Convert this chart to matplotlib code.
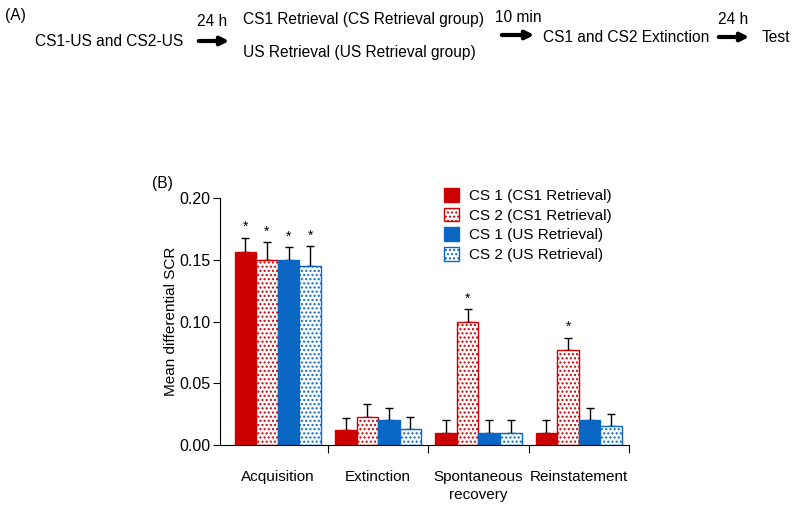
import numpy as np
import matplotlib
matplotlib.use('Agg')
import matplotlib.pyplot as plt

plt.rcParams['font.family'] = ['Liberation Sans', 'DejaVu Sans']
plt.rcParams['hatch.linewidth'] = 1.0

# data
phases = ['Acquisition', 'Extinction', 'Spontaneous\nrecovery', 'Reinstatement']
series = ['CS 1 (CS1 Retrieval)', 'CS 2 (CS1 Retrieval)',
          'CS 1 (US Retrieval)', 'CS 2 (US Retrieval)']
cs1_cs1ret = [0.156, 0.012, 0.010, 0.010]
cs2_cs1ret = [0.150, 0.023, 0.100, 0.077]
cs1_usret = [0.150, 0.020, 0.010, 0.020]
cs2_usret = [0.145, 0.013, 0.010, 0.015]
sem_cs1_cs1ret = [0.012, 0.010, 0.010, 0.010]
sem_cs2_cs1ret = [0.014, 0.010, 0.010, 0.010]
sem_cs1_usret = [0.010, 0.010, 0.010, 0.010]
sem_cs2_usret = [0.016, 0.010, 0.010, 0.010]
# which bars carry an asterisk
stars = [[True, False, False, False],
         [True, False, True, True],
         [True, False, False, False],
         [True, False, False, False]]

RED = '#cc0000'
BLUE = '#0a68c4'

W, H = 800, 511
fig = plt.figure(figsize=(8, 5.11), dpi=100, facecolor='white')


def fx(px):
    return px / W


def fy(py):
    return 1 - py / H


# ---- panel A: timeline ----
fs = 11.2
fig.text(fx(5), fy(15), '(A)', fontsize=fs, va='center')
fig.text(fx(35), fy(41), 'CS1-US and CS2-US', fontsize=fs, va='center')
fig.text(fx(212), fy(22), '24 h', fontsize=fs, va='center', ha='center')
fig.text(fx(243), fy(19), 'CS1 Retrieval (CS Retrieval group)', fontsize=fs, va='center')
fig.text(fx(243), fy(52), 'US Retrieval (US Retrieval group)', fontsize=fs, va='center')
fig.text(fx(518), fy(18), '10 min', fontsize=fs, va='center', ha='center')
fig.text(fx(543), fy(37), 'CS1 and CS2 Extinction', fontsize=fs, va='center')
fig.text(fx(733), fy(20), '24 h', fontsize=fs, va='center', ha='center')
fig.text(fx(762), fy(37), 'Test', fontsize=fs, va='center')

for x0, x1, y in [(196, 232, 41), (499, 537, 35), (716, 752, 37)]:
    fig.add_artist(matplotlib.patches.FancyArrowPatch(
        (fx(x0), fy(y)), (fx(x1), fy(y)), transform=fig.transFigure,
        arrowstyle='-|>', mutation_scale=12, lw=3, color='black'))

# ---- panel B: bars ----
ax = fig.add_axes([fx(220), fy(445), fx(629) - fx(220), fy(198) - fy(445)])
x = np.arange(len(phases))
bw = 0.215
vals = [cs1_cs1ret, cs2_cs1ret, cs1_usret, cs2_usret]
sems = [sem_cs1_cs1ret, sem_cs2_cs1ret, sem_cs1_usret, sem_cs2_usret]
styles = [dict(color=RED, edgecolor=RED),
          dict(color='white', edgecolor=RED, hatch='....'),
          dict(color=BLUE, edgecolor=BLUE),
          dict(color='white', edgecolor=BLUE, hatch='....')]

for i in range(4):
    pos = x + (i - 1.5) * bw
    ax.bar(pos, vals[i], bw, label=series[i], lw=1, **styles[i], zorder=2)
    ax.errorbar(pos, vals[i], yerr=[np.zeros(4), sems[i]], fmt='none',
                ecolor='black', elinewidth=1, capsize=3, capthick=1, zorder=1)
    for j in range(4):
        if stars[i][j]:
            ax.text(pos[j], vals[i][j] + sems[i][j] + 0.003, '*',
                    ha='center', va='bottom', fontsize=10)

ax.set_xlim(-0.575, 3.5)
ax.set_ylim(0, 0.2)
ax.spines['top'].set_visible(False)
ax.spines['right'].set_visible(False)
ax.set_yticks([0, 0.05, 0.10, 0.15, 0.20])
ax.set_yticklabels(['0.00', '0.05', '0.10', '0.15', '0.20'], fontsize=11.5)
ax.set_xticks([0.5, 1.5, 2.5, 3.5])
ax.set_xticklabels([])
ax.tick_params(axis='x', which='major', length=6, direction='out')
ax.set_xticks(x, minor=True)
ax.set_xticklabels(phases, minor=True, fontsize=11, linespacing=1.35)
ax.tick_params(axis='x', which='minor', length=0, pad=18)
ax.tick_params(axis='y', length=5, pad=2)
ax.set_ylabel('Mean differential SCR', fontsize=11, labelpad=1)

fig.text(fx(152), fy(183), '(B)', fontsize=fs, va='center')

ax.legend(loc='upper left', bbox_to_anchor=(fx(438), fy(182)),
          bbox_transform=fig.transFigure, frameon=False, fontsize=11,
          handlelength=1.0, handleheight=1.0, handletextpad=0.6,
          labelspacing=0.3, borderaxespad=0)

fig.savefig('out.png', dpi=100)
